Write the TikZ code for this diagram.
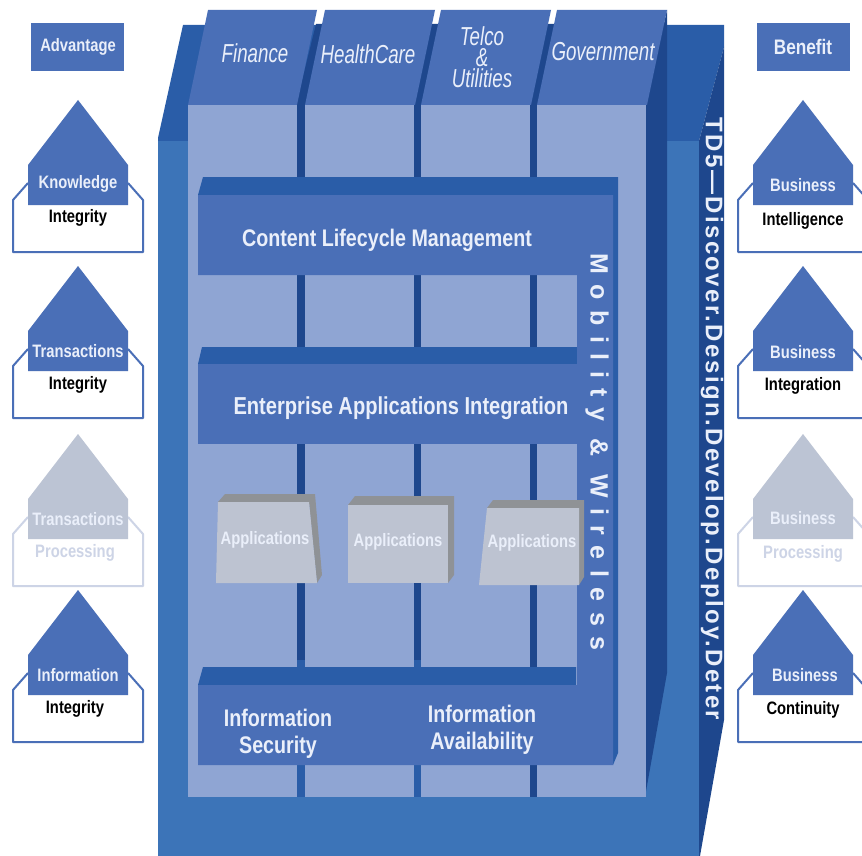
\documentclass[tikz,border=0pt]{standalone}
\usepackage{fontspec}
\setmainfont{Liberation Sans}
\newfontfamily\narrowfont[FakeStretch=0.82]{Liberation Sans}
\newfontfamily\tabfont[FakeStretch=0.72]{Liberation Sans}
\newfontfamily\spacedfont[LetterSpace=42]{Liberation Sans}
\newfontfamily\stripfont[LetterSpace=10]{Liberation Sans}
\definecolor{blockblue}{HTML}{4A6FB7}
\definecolor{darkblue}{HTML}{2A5DA8}
\definecolor{navyblue}{HTML}{1E478D}
\definecolor{faceblue}{HTML}{3C74B8}
\definecolor{panelblue}{HTML}{8FA5D3}
\definecolor{palegrey}{HTML}{BCC4D4}
\definecolor{paleline}{HTML}{CDD4E6}
\definecolor{appfront}{HTML}{BDC3D1}
\definecolor{appside}{HTML}{8F9296}
\definecolor{lighttext}{HTML}{EAEFFA}
\tikzset{
	lbl/.style={font=\narrowfont\bfseries\fontsize{#1}{#1}\selectfont,text=lighttext,inner sep=0pt,align=center},
	tablbl/.style={font=\tabfont\itshape\fontsize{26}{21}\selectfont,text=lighttext,inner sep=0pt,align=center},
	blacklbl/.style={font=\narrowfont\bfseries\fontsize{18}{18}\selectfont,text=black,inner sep=0pt},
	outline/.style={line width=2pt,line join=round}
}
\begin{document}
\begin{tikzpicture}[x=1pt,y=-1pt]
	\useasboundingbox (0,0) rectangle (862,856);
	\fill[white] (0,0) rectangle (862,856);
	% body of the box
	\fill[faceblue] (158,140)--(699,140)--(699,856)--(158,856)--cycle;
	\fill[darkblue] (158,138)--(183,25)--(724,25)--(724,47)--(699,141)--(158,141)--cycle;
	\fill[navyblue] (699,141)--(724,47)--(724,720)--(700,856)--(699,856)--cycle;
	\fill[navyblue] (646,105)--(667,10)--(667,673)--(645,797)--cycle;
	\fill[navyblue] (296,105)--(316,24)--(665,24)--(646,105)--(646,660)--(296,660)--cycle;
	\fill[darkblue] (296,660) rectangle (537,797);
	\fill[navyblue] (529,660) rectangle (537,797);
	% columns
	\foreach \x in {188,305,421,537}
	\fill[panelblue] (\x,105) rectangle (\x+108.5,797);
	% tabs
	\foreach \x/\w in {208/109,325/110,441/110,557/110}
	\fill[blockblue] (\x,10)--(\x+\w,10)--(\x+\w-20,105)--(\x-20,105)--cycle;
	\node[tablbl] (finance) at (255,53) {Finance};
	\node[tablbl] (healthcare) at (368,54) {HealthCare};
	\node[tablbl] (telco) at (482,57) {Telco\\\&\\Utilities};
	\node[tablbl] (government) at (603,52) {Government};
	% three bars and the side bar
	\fill[darkblue] (198,195)--(203,177)--(618,177)--(618,753)--(613,765)--(613,195)--cycle;
	\fill[darkblue] (198,364)--(202,347)--(577,347)--(577,364)--cycle;
	\fill[darkblue] (198,685)--(203,667)--(576,667)--(576,685)--cycle;
	\fill[blockblue] (198,195)--(613,195)--(613,765)--(198,765)--(198,685)--(577,685)--(577,275)--(198,275)--cycle;
	\fill[blockblue] (198,364) rectangle (577,444);
	\node[lbl=24] (content) at (387,240) {Content Lifecycle Management};
	\node[lbl=24.5] (eai) at (401,408) {Enterprise Applications Integration};
	\node[lbl=24] (security) at (278,734) {Information\\[3pt]Security};
	\node[lbl=24] (availability) at (482,730) {Information\\[3pt]Availability};
	\node[font=\spacedfont\bfseries\fontsize{25}{25}\selectfont,text=lighttext,rotate=-90,inner sep=0pt] (mobility) at (597,452) {Mobility \& Wireless};
	\node[font=\stripfont\bfseries\fontsize{24}{24}\selectfont,text=lighttext,rotate=-90,inner sep=0pt] (steps) at (712,419) {TD5—Discover.Design.Develop.Deploy.Deter};
	% applications
	\fill[appside] (218,502)--(225,494)--(315,494)--(322,575)--(317,583)--(309,502)--cycle;
	\fill[appfront] (218,502)--(309,502)--(317,583)--(216,583)--cycle;
	\fill[appside] (348,505)--(355,496)--(454,496)--(454,575)--(448,583)--(448,505)--cycle;
	\fill[appfront] (348,505)--(448,505)--(448,583)--(348,583)--cycle;
	\fill[appside] (487,508)--(493,500)--(584,500)--(584,577)--(579,585)--(579,508)--cycle;
	\fill[appfront] (487,508)--(579,508)--(579,585)--(479,585)--cycle;
	\node[lbl=18] (appa) at (265,540) {Applications};
	\node[lbl=18] (appb) at (398,542) {Applications};
	\node[lbl=18] (appc) at (532,543) {Applications};
	% heading boxes
	\fill[blockblue] (31,23) rectangle (124,71);
	\fill[blockblue] (757,23) rectangle (850,71);
	\node[lbl=18] (advantage) at (78,47) {Advantage};
	\node[lbl=21] (benefit) at (803,47) {Benefit};
	% houses
	\foreach \x/\y/\c/\e in {78/0/blockblue/blockblue,78/166/blockblue/blockblue,78/334/palegrey/paleline,78/490/blockblue/blockblue,
		803/0/blockblue/blockblue,803/166/blockblue/blockblue,803/334/palegrey/paleline,803/490/blockblue/blockblue}
	{
		\draw[outline,\e] (\x-50,183+\y)--(\x-65,200+\y)--(\x-65,252+\y)--(\x+65,252+\y)--(\x+65,200+\y)--(\x+50,183+\y);
		\fill[\c] (\x,100+\y)--(\x+50,165+\y)--(\x+50,205+\y)--(\x-50,205+\y)--(\x-50,165+\y)--cycle;
	}
	\node[lbl=18] (knowledge) at (78,184) {Knowledge};
	\node[blacklbl] (integritya) at (78,218) {Integrity};
	\node[lbl=18] (transa) at (78,351) {Transactions};
	\node[blacklbl] (integrityb) at (78,385) {Integrity};
	\node[lbl=18] (transb) at (78,519) {Transactions};
	\node[lbl=18,text=paleline] (procb) at (75,553) {Processing};
	\node[lbl=18] (information) at (78,675) {Information};
	\node[blacklbl] (integrityc) at (75,709) {Integrity};
	\node[lbl=18] (busa) at (803,185) {Business};
	\node[blacklbl] (intelligence) at (803,221) {Intelligence};
	\node[lbl=18] (busb) at (803,352) {Business};
	\node[blacklbl] (integration) at (803,386) {Integration};
	\node[lbl=18] (busc) at (803,518) {Business};
	\node[lbl=18,text=paleline] (procc) at (803,554) {Processing};
	\node[lbl=18] (busd) at (805,675) {Business};
	\node[blacklbl] (continuity) at (803,710) {Continuity};
\end{tikzpicture}
\end{document}
